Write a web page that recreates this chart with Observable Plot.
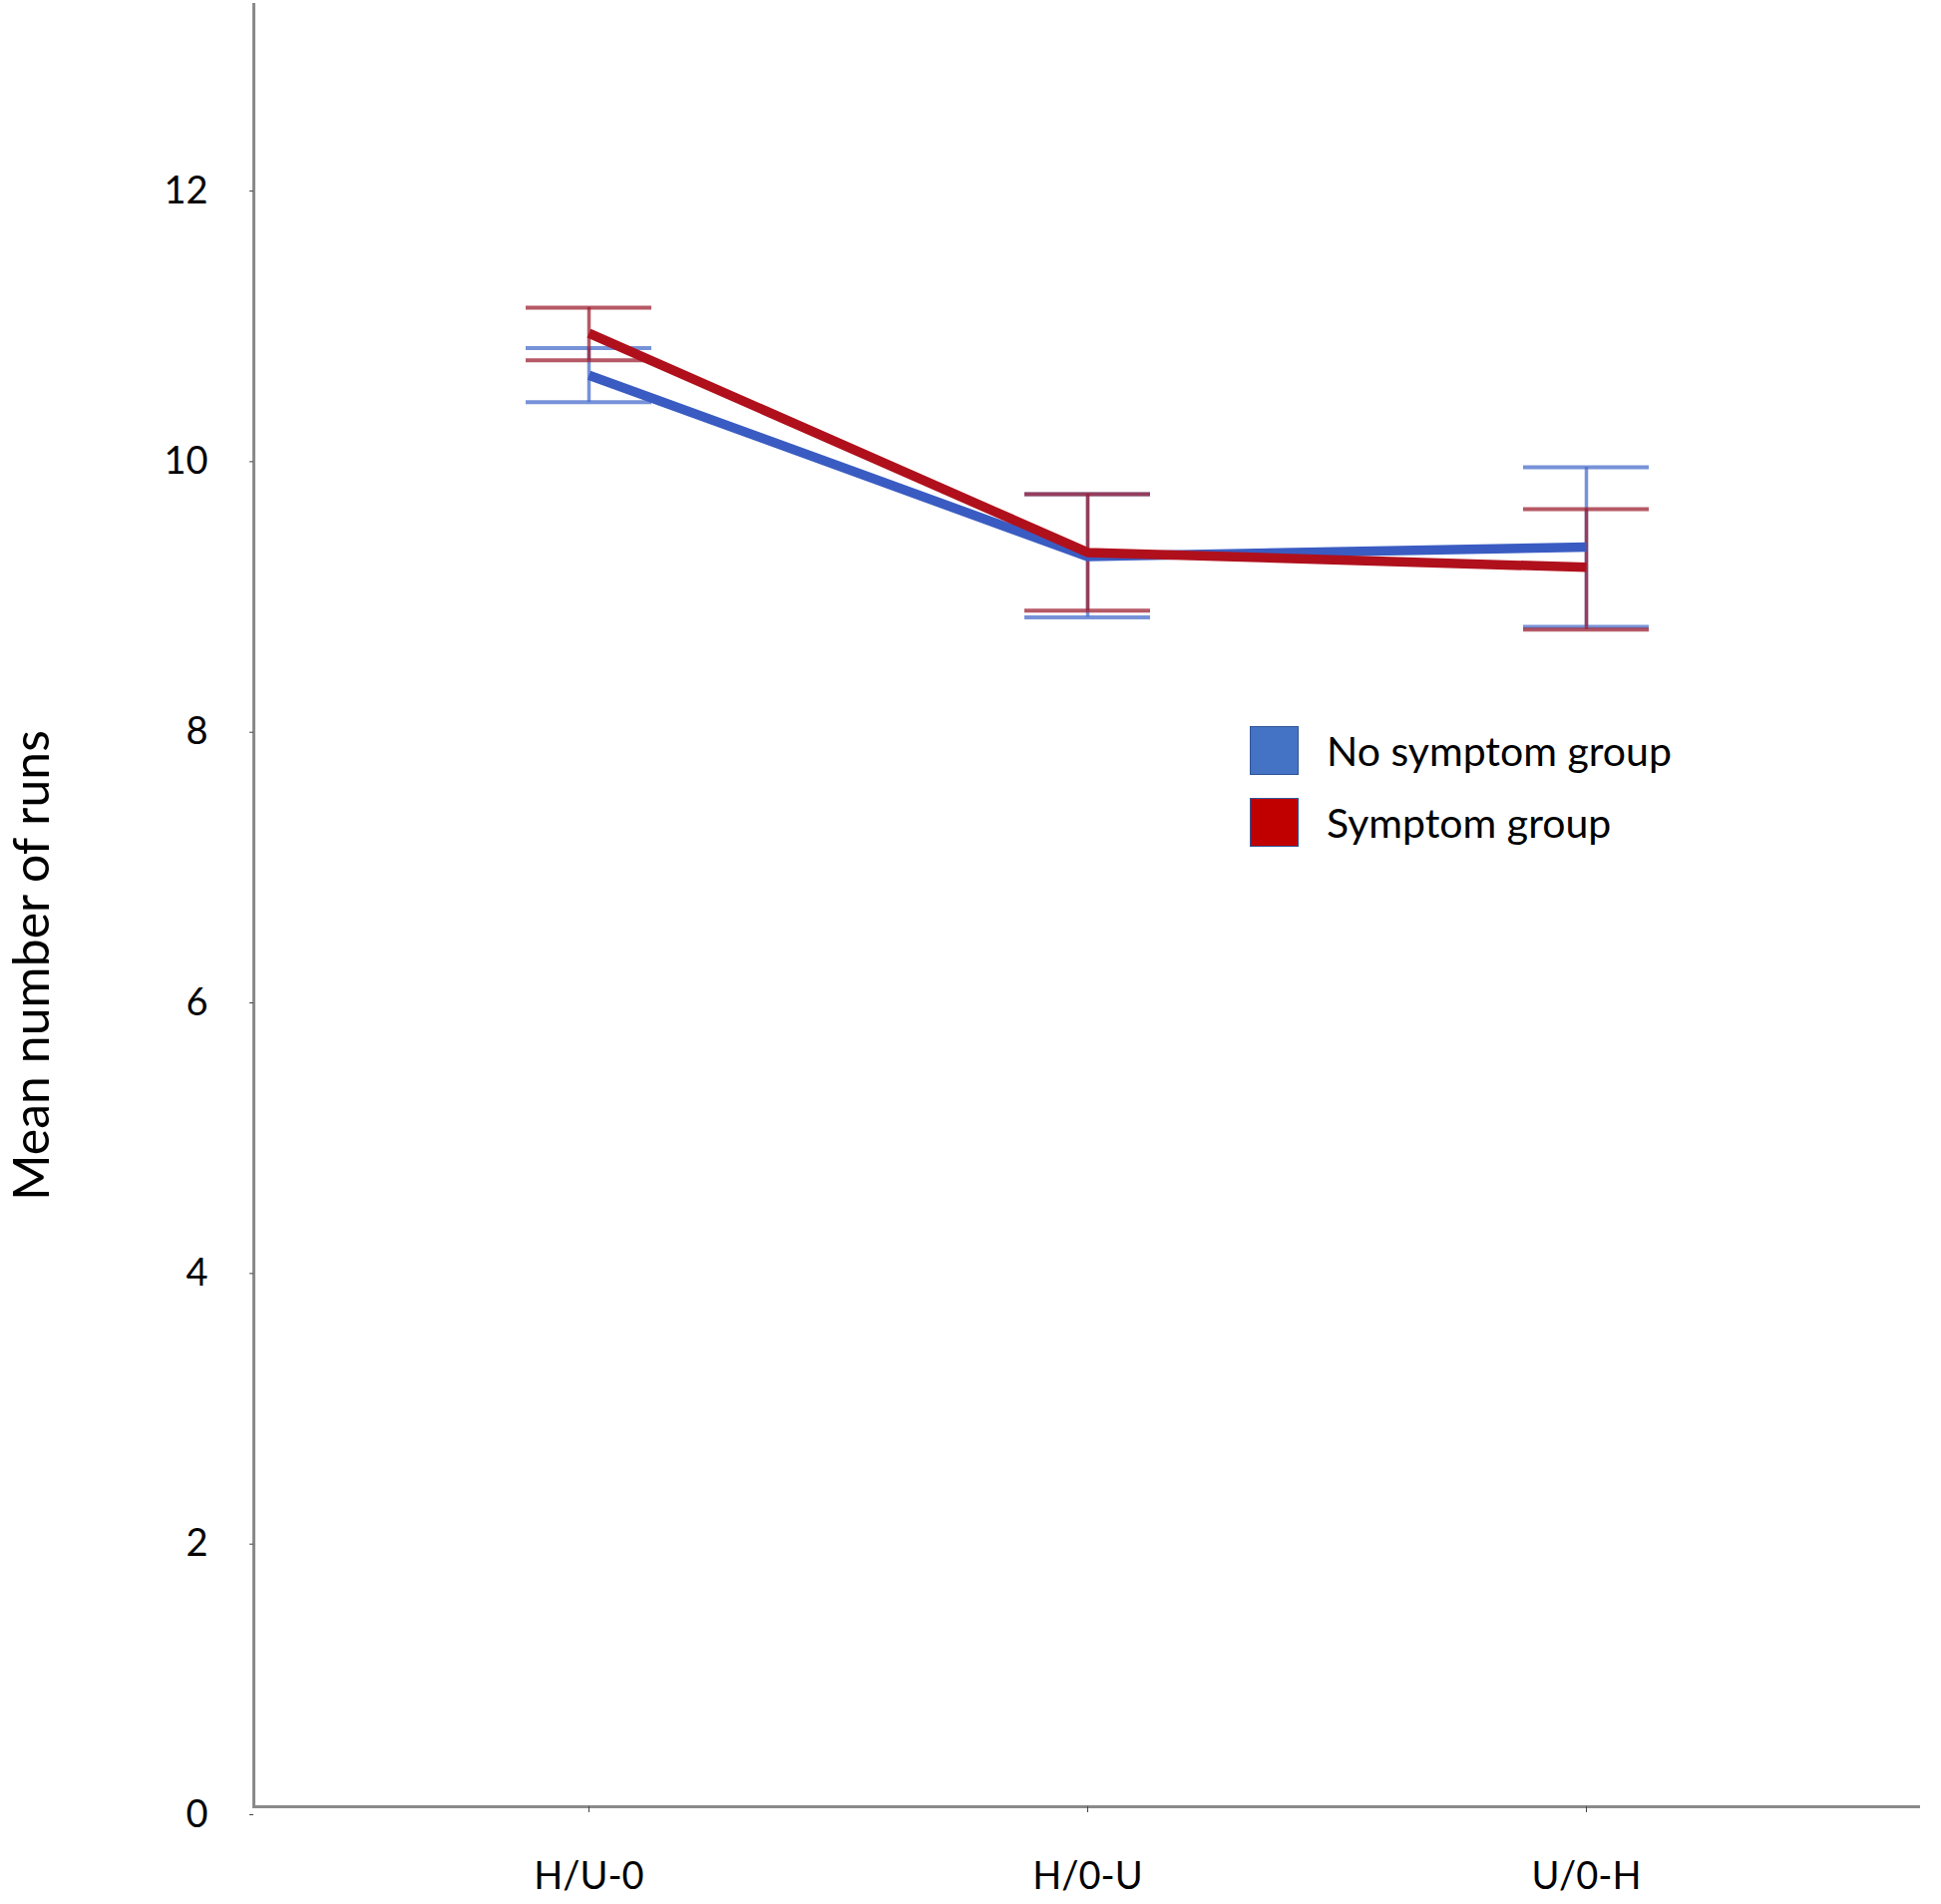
<!DOCTYPE html>
<html><head><meta charset="utf-8">
<script src="https://cdn.jsdelivr.net/npm/d3@7"></script>
<script src="https://cdn.jsdelivr.net/npm/@observablehq/plot@0.6"></script>
<style>
body{margin:0;background:#fff;}
#wrap{position:relative;width:1946px;height:1909px;}
.legend{position:absolute;left:1253px;top:728px;font-family:Lato,"Open Sans",sans-serif;font-size:41px;color:#000;}
.item{display:flex;align-items:center;height:49px;margin-bottom:23px;}
.sw{width:47px;height:47px;border:1px solid #2f5597;margin-right:28px;box-sizing:content-box;}
</style></head>
<body><div id="wrap"></div>
<script>
const conditions = ["H/U-0", "H/0-U", "U/0-H"];
const groups = ["No symptom group", "Symptom group"];
const noSymptomMean = [10.58, 9.24, 9.31];
const noSymptomLow  = [10.38, 8.79, 8.72];
const noSymptomHigh = [10.78, 9.70, 9.90];
const symptomMean = [10.89, 9.27, 9.16];
const symptomLow  = [10.69, 8.84, 8.70];
const symptomHigh = [11.08, 9.70, 9.59];
const yTicks = [0, 2, 4, 6, 8, 10, 12];
const lineColors = ["#3a5cc2", "#b0101c"];
const barColors = ["#4a6ecb", "#9e2233"];
const legendColors = ["#4472c4", "#c00000"];

const rows = (mean, low, high) => conditions.map((c, i) => ({cond: c, mean: mean[i], low: low[i], high: high[i]}));
const noSym = rows(noSymptomMean, noSymptomLow, noSymptomHigh);
const sym = rows(symptomMean, symptomLow, symptomHigh);

function bars(data, color) {
  return [
    Plot.ruleX(data, {x: "cond", y1: "low", y2: "high", stroke: color, strokeWidth: 3.5, strokeOpacity: 0.75}),
    Plot.tickY(data, {x: "cond", y: "low", stroke: color, strokeWidth: 4, strokeOpacity: 0.75, inset: 187}),
    Plot.tickY(data, {x: "cond", y: "high", stroke: color, strokeWidth: 4, strokeOpacity: 0.75, inset: 187})
  ];
}

const chart = Plot.plot({
  width: 1946,
  height: 1909,
  marginLeft: 254,
  marginRight: 21,
  marginTop: 4,
  marginBottom: 98,
  style: {fontFamily: "Lato, 'Open Sans', sans-serif", fontSize: "38px", color: "#000", background: "white"},
  x: {type: "band", domain: conditions, paddingInner: 0, paddingOuter: 0.169, label: null},
  y: {domain: [0, 13.32], label: null},
  marks: [
    Plot.frame({anchor: "left", stroke: "#8a8a8a", strokeWidth: 3}),
    Plot.ruleY([0], {stroke: "#8a8a8a", strokeWidth: 3}),
    Plot.axisY({ticks: yTicks, tickSize: 4, tickPadding: 42, stroke: "#444", dy: 8, label: null, fontSize: 38}),
    Plot.axisX({tickSize: 6, tickPadding: 50, stroke: "#444", label: null, fontSize: 38}),
    ...bars(noSym, barColors[0]),
    ...bars(sym, barColors[1]),
    Plot.line(noSym, {x: "cond", y: "mean", stroke: lineColors[0], strokeWidth: 9.5, strokeLinecap: "butt", strokeLinejoin: "round"}),
    Plot.line(sym, {x: "cond", y: "mean", stroke: lineColors[1], strokeWidth: 9.5, strokeLinecap: "butt", strokeLinejoin: "round"}),
    Plot.text(["Mean number of runs"], {text: d => d, frameAnchor: "left", textAnchor: "middle", rotate: -90, dx: -222, dy: 60, fontSize: 50, fill: "#000"})
  ]
});

const wrap = document.getElementById("wrap");
wrap.appendChild(chart);
const legend = document.createElement("div");
legend.className = "legend";
groups.forEach((g, i) => {
  const item = document.createElement("div");
  item.className = "item";
  const sw = document.createElement("div");
  sw.className = "sw";
  sw.style.background = legendColors[i];
  const label = document.createElement("span");
  label.textContent = g;
  item.appendChild(sw);
  item.appendChild(label);
  legend.appendChild(item);
});
wrap.appendChild(legend);
</script>
</body></html>
